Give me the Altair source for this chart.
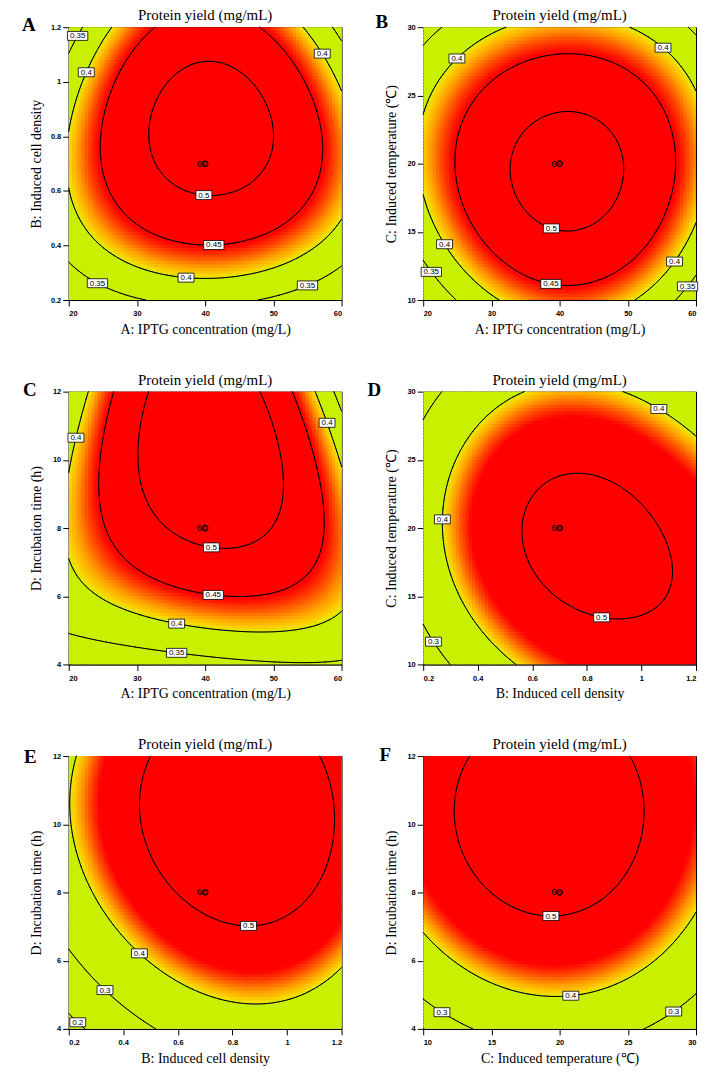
import numpy as np
import pandas as pd
import altair as alt

alt.data_transformers.disable_max_rows()

# ---------------- panel meta ----------------
panel_title = "Protein yield (mg/mL)"
letters = ["A", "B", "C", "D", "E", "F"]
letter_dx = [-47, -48, -46, -56, -45, -44]
letter_dy = [4, 1, 4, 4, 7, 5]
x_titles = ["A: IPTG concentration (mg/L)", "A: IPTG concentration (mg/L)", "A: IPTG concentration (mg/L)",
            "B: Induced cell density", "B: Induced cell density", "C: Induced temperature (℃)"]
y_titles = ["B: Induced cell density", "C: Induced temperature (℃)", "D: Incubation time (h)",
            "C: Induced temperature (℃)", "D: Incubation time (h)", "D: Incubation time (h)"]
x_domains = [[20, 60], [20, 60], [20, 60], [0.2, 1.2], [0.2, 1.2], [10, 30]]
y_domains = [[0.2, 1.2], [10, 30], [4, 12], [10, 30], [4, 12], [4, 12]]
x_ticks = [[20, 30, 40, 50, 60]] * 3 + [[0.2, 0.4, 0.6, 0.8, 1, 1.2]] * 2 + [[10, 15, 20, 25, 30]]
y_ticks = [[0.2, 0.4, 0.6, 0.8, 1, 1.2], [10, 15, 20, 25, 30], [4, 6, 8, 10, 12],
           [10, 15, 20, 25, 30], [4, 6, 8, 10, 12], [4, 6, 8, 10, 12]]
levels = [[0.35, 0.4, 0.45, 0.5]] * 3 + [[0.3, 0.4, 0.5], [0.2, 0.3, 0.4, 0.5], [0.3, 0.4, 0.5]]
center_x = [40, 40, 40, 0.7, 0.7, 20]
center_y = [0.7, 20, 8, 20, 8, 8]
center_label = ["6", "6", "6", "6", "6", "6"]

# ---------------- contour points (x, y, level) ----------------
A_px = [40.0, 47.3, 50.1, 47.5, 39.8, 33.9, 31.8, 33.0,
        33.1, 24.6, 27.6, 33.0, 41.2, 49.5, 54.6, 57.0, 56.5, 53.6, 48.0,
        26.5, 22.1, 20.0, 20.0, 37.3, 41.0, 50.0, 60.0, 54.4, 60.0,
        21.9, 20.0, 20.0, 24.5, 30.0, 48.8, 54.8, 60.0, 58.7, 60.0]
A_py = [1.083, 1.0, 0.808, 0.674, 0.586, 0.674, 0.808, 0.979,
        1.2, 0.725, 0.528, 0.443, 0.403, 0.443, 0.528, 0.70, 0.846, 1.03, 1.2,
        1.2, 1.03, 0.81, 0.62, 0.29, 0.275, 0.31, 0.47, 1.2, 0.955,
        1.2, 1.09, 0.33, 0.27, 0.2, 0.2, 0.27, 0.33, 1.2, 1.156]
A_pl = [0.5] * 8 + [0.45] * 11 + [0.4] * 10 + [0.35] * 10

B_px = [33.0, 49.0, 41.1, 41.0, 35.2, 46.6, 35.2, 46.6,
        24.9, 56.9, 41.5, 41.1, 28.5, 53.5, 28.5, 53.3,
        24.4, 30.5, 20.0, 51.7, 55.3, 60.0, 20.0, 23.9, 30.5, 51.4, 56.5, 60.0,
        20.0, 24.2, 58.4, 60.0, 20.0, 21.5, 24.7, 57.2, 58.4, 60.0]
B_py = [19.8, 19.6, 23.6, 15.0, 22.3, 22.3, 16.5, 16.5,
        19.3, 20.0, 27.8, 11.4, 25.4, 25.4, 13.6, 13.6,
        27.9, 30.0, 23.6, 30.0, 28.6, 25.6, 16.2, 14.4, 10.0, 10.0, 12.9, 15.0,
        28.7, 30.0, 30.0, 29.2, 13.1, 12.2, 10.0, 10.0, 11.2, 11.9]
B_pl = [0.5] * 8 + [0.45] * 8 + [0.4] * 12 + [0.35] * 10

C_px = [32.2, 29.7, 30.6, 34.5, 41.8, 49.1, 50.6, 51.3, 48.1,
        27.3, 25.3, 24.3, 24.6, 29.6, 41.8, 51.6, 56.9, 57.1, 56.9, 55.3, 52.7,
        22.0, 21.4, 20.0, 20.0, 24.7, 36.0, 44.2, 60.0, 56.2, 58.0, 60.0,
        20.0, 36.0, 53.3]
C_py = [12.0, 9.89, 8.78, 7.8, 7.37, 7.9, 8.04, 9.69, 12.0,
        12.0, 10.5, 8.92, 8.04, 6.84, 6.0, 6.25, 7.42, 8.04, 9.2, 10.6, 12.0,
        12.0, 10.6, 8.78, 7.27, 6.06, 5.23, 5.04, 5.52, 12.0, 11.1, 9.74,
        4.8, 4.38, 4.0]
C_pl = [0.5] * 9 + [0.45] * 12 + [0.4] * 11 + [0.35] * 3

D_px = [0.59, 0.80, 1.105, 0.895, 1.03, 0.69, 0.651, 1.04,
        0.566, 0.37, 0.27, 0.30, 0.395, 0.548, 0.913, 1.07, 1.2,
        0.2, 0.243, 0.298, 1.2]
D_py = [20.2, 24.1, 18.0, 13.4, 22.1, 14.8, 23.0, 14.8,
        30.0, 26.8, 20.6, 16.5, 12.4, 10.0, 30.0, 28.85, 26.5,
        12.9, 11.8, 10.0, 10.0]
D_pl = [0.5] * 8 + [0.4] * 9 + [0.3] * 3 + [0.46]

E_px = [0.496, 0.466, 0.538, 0.68, 0.961, 1.106, 1.172, 1.124,
        0.227, 0.21, 0.272, 0.46, 0.683, 0.997, 1.2,
        0.2, 0.333, 0.508,
        0.2, 0.236, 0.248, 1.2]
E_py = [12.0, 10.12, 8.48, 7.6, 7.13, 8.0, 10.12, 12.0,
        12.0, 10.3, 8.19, 6.19, 5.11, 4.84, 5.83,
        6.22, 5.16, 4.0,
        4.53, 4.24, 4.0, 12.0]
E_pl = [0.5] * 8 + [0.4] * 7 + [0.3] * 3 + [0.2] * 3 + [0.47]

F_px = [12.95, 12.1, 13.55, 19.84, 24.44, 26.08, 24.87,
        10.0, 14.52, 20.33, 26.6, 30.0,
        10.0, 11.5, 13.31, 26.25, 28.19, 30.0,
        10.0, 30.0]
F_py = [12.0, 10.18, 8.53, 7.36, 8.43, 10.27, 12.0,
        6.83, 5.52, 5.04, 5.52, 7.51,
        4.85, 4.5, 4.0, 4.0, 4.6, 5.04,
        12.0, 12.0]
F_pl = [0.5] * 7 + [0.4] * 5 + [0.3] * 6 + [0.455, 0.44]

points = [(A_px, A_py, A_pl), (B_px, B_py, B_pl), (C_px, C_py, C_pl),
          (D_px, D_py, D_pl), (E_px, E_py, E_pl), (F_px, F_py, F_pl)]

# ---------------- contour label positions (x, y, level) ----------------
lab_A = [(21.3, 1.17, 0.35), (22.5, 1.033, 0.4), (57.5, 1.106, 0.4), (40.0, 0.607, 0.5),
         (41.2, 0.42, 0.45), (37.3, 0.30, 0.4), (24.5, 0.269, 0.35), (54.8, 0.27, 0.35)]
lab_B = [(24.4, 27.9, 0.4), (55.3, 28.6, 0.4), (38.9, 15.5, 0.5), (38.9, 11.4, 0.45),
         (23.9, 14.4, 0.4), (21.5, 12.2, 0.35), (56.5, 12.9, 0.4), (58.4, 11.2, 0.35)]
lab_C = [(21.4, 10.6, 0.4), (58.0, 11.1, 0.4), (40.8, 7.51, 0.5), (41.3, 6.17, 0.45),
         (36.0, 5.23, 0.4), (36.0, 4.38, 0.35)]
lab_D = [(0.27, 20.6, 0.4), (1.07, 28.85, 0.4), (0.859, 13.85, 0.5), (0.243, 11.8, 0.3)]
lab_E = [(0.858, 7.28, 0.5), (0.46, 6.19, 0.4), (0.333, 5.16, 0.3), (0.236, 4.24, 0.2)]
lab_F = [(19.36, 7.54, 0.5), (20.7, 5.18, 0.4), (11.5, 4.55, 0.3), (28.19, 4.6, 0.3)]
labels = [lab_A, lab_B, lab_C, lab_D, lab_E, lab_F]

# ---------------- response surface (reduced cubic fitted to the read contours) ----------------
def basis(u, v):
    return np.stack([np.ones_like(u), u, v, u * u, v * v, u * v, u * u * v, u * v * v, u ** 3, v ** 3], axis=-1)


def coded(vals, dom):
    mid = (dom[0] + dom[1]) / 2.0
    half = (dom[1] - dom[0]) / 2.0
    return (np.asarray(vals, dtype=float) - mid) / half


def fit(px, py, pl, xd, yd):
    M = basis(coded(px, xd), coded(py, yd))
    lam = np.diag([0, 0, 0, 1e-6, 1e-6, 1e-6, 2e-4, 2e-4, 2e-4, 2e-4])
    return np.linalg.solve(M.T @ M + lam, M.T @ np.asarray(pl, dtype=float))


def evaluate(coef, X, Y, xd, yd):
    return basis(coded(X, xd), coded(Y, yd)) @ coef


def heat_table(coef, xd, yd, n=84):
    sx = (xd[1] - xd[0]) / n
    sy = (yd[1] - yd[0]) / n
    xc = xd[0] + (np.arange(n) + 0.5) * sx
    yc = yd[0] + (np.arange(n) + 0.5) * sy
    X, Y = np.meshgrid(xc, yc)
    F = evaluate(coef, X, Y, xd, yd)
    return pd.DataFrame({
        "x": (X - 0.5 * sx).ravel(), "x2": (X + 1.0 * sx).ravel(),
        "y": (Y - 0.5 * sy).ravel(), "y2": (Y + 1.0 * sy).ravel(),
        "f": F.ravel()})


def contour_segments(coef, xd, yd, levs, n=110):
    xs = np.linspace(xd[0], xd[1], n + 1)
    ys = np.linspace(yd[0], yd[1], n + 1)
    X, Y = np.meshgrid(xs, ys)
    F = evaluate(coef, X, Y, xd, yd)
    rows = []
    for L in levs:
        G = F - L
        s = G < 0
        mask = ~((s[:-1, :-1] == s[:-1, 1:]) & (s[:-1, :-1] == s[1:, 1:]) & (s[:-1, :-1] == s[1:, :-1]))
        for j, i in zip(*np.nonzero(mask)):
            c = [G[j, i], G[j, i + 1], G[j + 1, i + 1], G[j + 1, i]]
            p = [(xs[i], ys[j]), (xs[i + 1], ys[j]), (xs[i + 1], ys[j + 1]), (xs[i], ys[j + 1])]
            cr = []
            for e in range(4):
                a, b = c[e], c[(e + 1) % 4]
                if (a < 0) != (b < 0):
                    t = a / (a - b)
                    pa, pb = p[e], p[(e + 1) % 4]
                    cr.append((pa[0] + t * (pb[0] - pa[0]), pa[1] + t * (pb[1] - pa[1])))
            pairs = [(0, 1)] if len(cr) == 2 else ([(0, 1), (2, 3)] if len(cr) == 4 else [])
            for a_, b_ in pairs:
                rows.append({"x": cr[a_][0], "y": cr[a_][1], "x2": cr[b_][0], "y2": cr[b_][1], "lev": L})
    return pd.DataFrame(rows)


def box_path(txt):
    digits = len(txt.replace(".", ""))
    w = 4.4 * digits + 2.2 + 5.0
    h = 9.0
    sx, sy = w / 20.0, h / 20.0
    return f"M{-sx:.3f},{-sy:.3f}L{sx:.3f},{-sy:.3f}L{sx:.3f},{sy:.3f}L{-sx:.3f},{sy:.3f}Z"


def label_table(segs, labs, xd, yd):
    rows = []
    mx = (segs["x"] + segs["x2"]) / 2
    my = (segs["y"] + segs["y2"]) / 2
    for (lx, ly, lv) in labs:
        sel = np.isclose(segs["lev"], lv)
        if sel.sum() > 0:
            dx = (mx[sel] - lx) / (xd[1] - xd[0])
            dy = (my[sel] - ly) / (yd[1] - yd[0])
            k = np.argmin(dx.values ** 2 + dy.values ** 2)
            px, py = mx[sel].values[k], my[sel].values[k]
        else:
            px, py = lx, ly
        txt = f"{lv:g}"
        rows.append({"x": px, "y": py, "txt": txt, "path": box_path(txt)})
    return pd.DataFrame(rows)


color_scale = alt.Scale(domain=[0.400, 0.404, 0.418, 0.432, 0.447],
                        range=["#c8f000", "#f8dc00", "#ffa000", "#ff5000", "#ff0000"],
                        clamp=True, interpolate="rgb")

SERIF = "Liberation Serif"
SANS = "Liberation Sans"
W = 274
H = 274


def panel(k):
    xd, yd = x_domains[k], y_domains[k]
    px, py, pl = points[k]
    coef = fit(px, py, pl, xd, yd)
    heat = heat_table(coef, xd, yd)
    segs = contour_segments(coef, xd, yd, levels[k])
    labs = label_table(segs, labels[k], xd, yd)

    xs = alt.Scale(domain=xd, nice=False, zero=False)
    ys = alt.Scale(domain=yd, nice=False, zero=False)
    xax = alt.Axis(values=x_ticks[k], format=".3~g", title=x_titles[k], tickSize=6, labelPadding=4,
                   titlePadding=5, grid=False, labelFont=SANS, labelFontSize=7.5, labelFontWeight="bold",
                   titleFont=SERIF, titleFontSize=14, titleFontWeight="normal")
    yax = alt.Axis(values=y_ticks[k], format=".3~g", title=y_titles[k], tickSize=6, labelPadding=2,
                   titlePadding=6, grid=False, minExtent=19, maxExtent=19, labelFont=SANS,
                   labelFontSize=7.5, labelFontWeight="bold",
                   titleFont=SERIF, titleFontSize=14, titleFontWeight="normal")
    X = alt.X("x:Q", scale=xs, axis=xax)
    Y = alt.Y("y:Q", scale=ys, axis=yax)

    heat_l = alt.Chart(heat).mark_rect(clip=True, strokeWidth=0).encode(
        x=X, x2="x2:Q", y=Y, y2="y2:Q",
        color=alt.Color("f:Q", scale=color_scale, legend=None))
    line_l = alt.Chart(segs).mark_rule(color="black", strokeWidth=1, strokeCap="round").encode(
        x=X, x2="x2:Q", y=Y, y2="y2:Q")
    box_l = alt.Chart(labs).mark_point(filled=True, fill="white", stroke="black", strokeWidth=0.8,
                                       opacity=1, size=400).encode(
        x=X, y=Y, shape=alt.Shape("path:N", scale=None))
    txt_l = alt.Chart(labs).mark_text(font=SANS, fontSize=8, color="black", baseline="middle",
                                      align="center", dy=0.5).encode(x=X, y=Y, text="txt:N")
    cdf = pd.DataFrame({"x": [center_x[k]], "y": [center_y[k]], "t": [center_label[k]]})
    cpt = alt.Chart(cdf).mark_point(shape="circle", filled=True, fill="#b40000", stroke="black",
                                    strokeWidth=1.2, size=30, opacity=1).encode(x=X, y=Y)
    ctx = alt.Chart(cdf).mark_text(font=SANS, fontSize=9, color="black", align="right",
                                   baseline="middle", dx=-3.5).encode(x=X, y=Y, text="t:N")
    ldf = pd.DataFrame({"t": [letters[k]], "title": [panel_title]})
    let = alt.Chart(ldf).mark_text(font=SERIF, fontSize=19, fontWeight="bold", color="black",
                                   align="left", baseline="alphabetic").encode(
        x=alt.value(letter_dx[k]), y=alt.value(letter_dy[k]), text="t:N")
    ttl = alt.Chart(ldf).mark_text(font=SERIF, fontSize=15, color="black",
                                   align="center", baseline="alphabetic").encode(
        x=alt.value(W / 2), y=alt.value(-7), text="title:N")

    return alt.layer(heat_l, line_l, box_l, txt_l, cpt, ctx, let, ttl).properties(width=W, height=H)


p = [panel(k) for k in range(6)]
chart = alt.concat(*p, columns=2, spacing=alt.RowColnumber(row=92, column=82), bounds="flush").properties(
    padding={"left": 13, "top": -3, "right": 0, "bottom": 0},
    background="white"
).configure_view(stroke="black", strokeWidth=1).configure_axis(
    domainColor="black", tickColor="black", labelColor="black", titleColor="black",
    domainWidth=1, tickWidth=1
)

chart.save("out.html", embed_options={"renderer": "svg", "actions": False})
